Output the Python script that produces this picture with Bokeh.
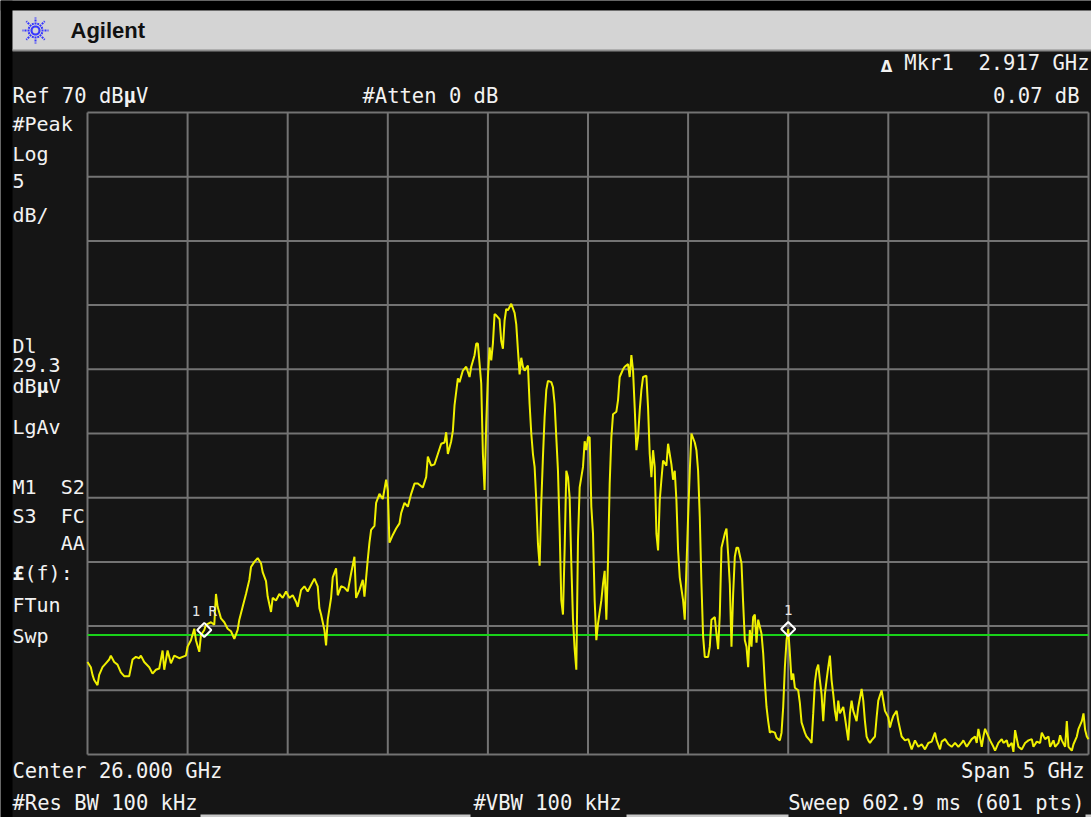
import math
from bokeh.plotting import figure
from bokeh.models import Range1d, ColumnDataSource
from bokeh.core.properties import value
from bokeh.embed import file_html
from bokeh.resources import INLINE

# ---- instrument settings ----
center_ghz = 26.0
span_ghz = 5.0
n_points = 601
ref_level = 70.0        # dBuV, top graticule line
db_per_div = 5.0
n_vdiv = 10
n_hdiv = 10
display_line = 29.3     # dBuV

# ---- trace: sweep point index and level (dBuV) ----
trace_pt = [
    0, 2, 3, 4, 6, 7, 9, 11, 13, 14,
    16, 18, 20, 22, 25, 27, 29, 31, 32, 34,
    37, 39, 41, 43, 45, 46, 48, 50, 52, 55,
    57, 59, 60, 62, 64, 65, 67, 68, 70, 71,
    74, 76, 77, 78, 80, 82, 84, 86, 88, 90,
    91, 93, 95, 97, 98, 100, 102, 104, 105, 107,
    108, 110, 111, 113, 115, 117, 119, 121, 123, 125,
    126, 128, 130, 132, 134, 136, 138, 139, 140, 142,
    143, 144, 146, 147, 149, 150, 152, 154, 156, 158,
    160, 161, 163, 165, 166, 168, 169, 170, 172, 173,
    175, 177, 179, 180, 181, 183, 185, 187, 188, 190,
    192, 194, 196, 198, 201, 203, 204, 206, 208, 210,
    212, 214, 215, 216, 218, 219, 220, 222, 223, 225,
    227, 229, 230, 232, 233, 234, 236, 237, 238, 239,
    240, 241, 242, 243, 244, 245, 247, 248, 249, 250,
    251, 252, 254, 256, 257, 258, 259, 260, 261, 262,
    264, 265, 266, 267, 268, 269, 270, 271, 272, 273,
    274, 275, 276, 278, 279, 280, 281, 282, 283, 284,
    285, 286, 287, 288, 289, 290, 291, 292, 293, 294,
    295, 297, 298, 299, 300, 301, 302, 303, 304, 305,
    306, 308, 309, 310, 311, 312, 313, 314, 315, 317,
    318, 319, 321, 322, 324, 325, 326, 327, 328, 329,
    330, 331, 332, 333, 335, 336, 337, 338, 339, 340,
    341, 342, 343, 344, 345, 347, 348, 350, 351, 352,
    353, 354, 355, 357, 358, 359, 360, 361, 362, 364,
    365, 366, 367, 368, 369, 370, 372, 373, 374, 376,
    377, 378, 379, 380, 382, 383, 384, 385, 386, 387,
    388, 389, 390, 392, 393, 394, 395, 396, 397, 398,
    399, 400, 401, 402, 404, 405, 406, 407, 408, 409,
    410, 412, 413, 415, 416, 417, 418, 419, 420, 421,
    422, 423, 424, 426, 427, 428, 430, 431, 433, 434,
    435, 436, 437, 438, 439, 440, 441, 442, 443, 444,
    445, 446, 447, 448, 449, 450, 451, 453, 454, 456,
    457, 458, 459, 461, 462, 464, 465, 466, 467, 468,
    469, 470, 472, 473, 474, 476, 477, 478, 480, 481,
    482, 483, 485, 486, 488, 490, 492, 494, 496, 498,
    500, 502, 504, 506, 508, 509, 511, 512, 514, 516,
    518, 520, 522, 524, 525, 527, 529, 530, 532, 533,
    534, 536, 537, 538, 540, 541, 543, 544, 546, 548,
    549, 551, 552, 554, 555, 556, 558, 560, 562, 564,
    566, 567, 569, 571, 572, 574, 576, 577, 579, 580,
    582, 583, 584, 586, 587, 588, 590, 591, 593, 594,
    596, 597, 598, 599, 600,
]
trace_dbuv = [
    27.2, 26.8, 26.2, 25.8, 25.4, 26.2, 26.8, 27.1, 27.4, 27.7,
    27.2, 27.0, 26.4, 26.1, 26.1, 27.4, 27.6, 27.5, 27.7, 27.2,
    26.8, 26.3, 26.6, 26.7, 28.1, 26.6, 28.1, 27.1, 27.7, 27.5,
    27.6, 27.7, 28.4, 28.9, 29.8, 28.9, 28.0, 29.3, 29.7, 30.1,
    30.3, 30.1, 32.5, 31.5, 30.6, 30.3, 29.8, 29.6, 29.0, 29.7,
    30.5, 31.5, 32.5, 33.6, 34.6, 35.0, 35.3, 34.9, 34.2, 33.5,
    32.3, 31.1, 32.2, 32.0, 32.5, 32.2, 32.7, 32.2, 32.4, 31.9,
    31.5, 32.8, 33.1, 32.7, 33.2, 33.7, 33.1, 31.4, 30.9, 29.7,
    28.5, 30.5, 32.2, 33.8, 34.5, 32.4, 33.1, 33.0, 32.7, 34.1,
    35.4, 32.2, 32.8, 33.6, 32.3, 35.2, 36.5, 37.5, 37.8, 39.6,
    40.3, 39.9, 41.4, 40.6, 36.5, 37.1, 37.6, 38.0, 38.8, 39.6,
    39.3, 40.3, 41.1, 41.1, 40.8, 41.6, 43.2, 42.5, 42.6, 43.4,
    44.2, 44.3, 45.1, 43.4, 44.4, 45.2, 47.2, 49.3, 49.0, 49.9,
    50.2, 49.4, 50.2, 51.1, 52.0, 52.0, 48.9, 43.4, 40.6, 45.8,
    49.4, 51.7, 50.7, 52.0, 54.3, 54.2, 53.9, 52.2, 51.6, 53.8,
    54.7, 54.6, 55.1, 54.4, 53.5, 51.5, 49.6, 50.9, 50.2, 49.9,
    50.3, 47.3, 45.0, 43.4, 42.4, 39.8, 36.4, 34.7, 39.6, 43.2,
    46.3, 48.4, 49.1, 49.0, 48.6, 47.3, 44.7, 42.1, 37.5, 32.0,
    30.9, 36.0, 42.1, 41.6, 40.0, 34.9, 30.5, 28.2, 26.6, 36.7,
    40.8, 42.4, 44.4, 43.7, 44.7, 44.7, 39.3, 37.2, 32.0, 28.9,
    30.2, 32.0, 33.3, 34.3, 30.5, 35.1, 41.1, 44.7, 46.5, 46.7,
    47.6, 49.4, 50.0, 50.2, 50.4, 49.4, 51.1, 49.9, 47.0, 43.7,
    44.7, 46.8, 48.4, 49.4, 49.5, 47.0, 43.4, 41.6, 43.7, 42.4,
    37.2, 35.9, 39.8, 41.4, 42.9, 42.5, 44.2, 42.6, 41.4, 42.1,
    39.8, 35.9, 33.8, 32.0, 30.5, 34.6, 38.5, 42.1, 45.0, 44.3,
    43.7, 42.1, 38.5, 33.3, 29.2, 27.6, 27.6, 28.4, 30.5, 30.7,
    29.4, 28.2, 30.9, 36.1, 37.2, 37.6, 35.6, 33.3, 28.4, 32.5,
    35.4, 36.1, 36.1, 34.9, 31.8, 28.9, 28.4, 26.8, 29.7, 28.4,
    30.7, 30.9, 28.7, 30.5, 29.4, 27.9, 25.6, 23.7, 22.6, 21.7,
    21.8, 21.7, 21.3, 21.1, 21.7, 23.7, 26.8, 28.9, 29.77, 27.9,
    25.8, 26.3, 25.2, 25.0, 24.0, 22.5, 21.7, 21.4, 21.1, 20.9,
    23.2, 25.6, 26.6, 27.0, 25.8, 24.7, 22.6, 24.7, 25.8, 26.8,
    27.7, 25.8, 24.7, 23.4, 22.6, 24.2, 23.2, 23.7, 22.9, 21.1,
    23.2, 24.2, 23.4, 22.6, 23.7, 25.1, 24.2, 22.6, 21.4, 21.1,
    20.9, 21.1, 21.4, 22.9, 24.2, 25.0, 24.2, 23.4, 22.9, 22.1,
    22.6, 23.0, 23.4, 22.6, 21.4, 21.1, 21.2, 20.4, 21.1, 20.6,
    20.8, 20.4, 20.9, 21.0, 21.7, 21.1, 20.4, 21.0, 21.2, 20.8,
    20.6, 20.9, 20.6, 20.9, 21.1, 20.6, 21.0, 21.2, 21.4, 20.9,
    22.0, 20.6, 21.4, 22.0, 21.4, 21.1, 20.6, 20.3, 20.9, 21.2,
    20.9, 21.1, 20.6, 20.9, 20.2, 21.9, 20.6, 20.4, 20.9, 21.1,
    21.2, 20.6, 21.0, 20.9, 21.7, 21.2, 21.4, 20.6, 21.1, 20.6,
    20.9, 21.5, 21.1, 20.6, 22.6, 20.6, 20.3, 20.8, 21.4, 22.0,
    22.6, 23.2, 21.9, 21.4, 21.2,
]
assert len(trace_pt) == len(trace_dbuv)

# ---- markers (sweep point index): reference marker and delta marker ----
marker_ref_pt = 70
marker_pt = 420

# ---- derived values ----
start_ghz = center_ghz - span_ghz / 2
stop_ghz = center_ghz + span_ghz / 2
bottom_level = ref_level - n_vdiv * db_per_div
ghz_per_pt = span_ghz / (n_points - 1)

freq = [start_ghz + i * ghz_per_pt for i in trace_pt]
level_at = dict(zip(trace_pt, trace_dbuv))
mk_f = [start_ghz + marker_ref_pt * ghz_per_pt, start_ghz + marker_pt * ghz_per_pt]
mk_l = [level_at[marker_ref_pt], level_at[marker_pt]]
delta_f = mk_f[1] - mk_f[0]
delta_l = mk_l[1] - mk_l[0]

# ---- screen layout (pixels, origin top-left) ----
W, H = 1091, 817
GL, GR, GT, GB = 87, 1088, 112, 754   # graticule edges on the screen

BG = "#151515"
FG = "#f2f2f2"
GRID = "#737373"
MONO = "DejaVu Sans Mono"
FS = 20.5        # status lines
FS_COL = 20      # left annotation column
CW = 0.602 * FS
CW_COL = 0.602 * FS_COL
NB = "\u00a0"    # keeps runs of spaces in the SVG text

# the plot frame is the whole screen, in pixel units (y grows downwards)
p = figure(width=W, height=H, output_backend="svg", toolbar_location=None,
           x_range=Range1d(0, W), y_range=Range1d(H, 0),
           x_axis_location=None, y_axis_location=None, min_border=0)
p.background_fill_color = BG
p.border_fill_color = BG
p.outline_line_color = None
p.xgrid.visible = False
p.ygrid.visible = False

# frequency / level scales that put the graticule where the screen has it
gpp = span_ghz / (GR - GL)
dpp = (ref_level - bottom_level) / (GB - GT)
p.extra_x_ranges = {"freq": Range1d(start_ghz - GL * gpp, stop_ghz + (W - GR) * gpp)}
p.extra_y_ranges = {"level": Range1d(bottom_level - (H - GB) * dpp, ref_level + GT * dpp)}
ON_SCALE = dict(x_range_name="freq", y_range_name="level")

# ---- screen furniture ----
def boxes(spec, color):
    l, r, t, b = zip(*spec)
    p.quad(left=list(l), right=list(r), top=list(t), bottom=list(b),
           fill_color=color, line_color=None)

boxes([(0, 12, 0, H), (0, W, 0, 10)], "#000000")
boxes([(12, W, 10, 50)], "#d4d4d4")
boxes([(12, W, 49, 51)], "#8a8a8a")
# softkey edges along the bottom
boxes([(200, 470, 814, H), (626, 788, 814, H), (1085, W, 814, H)], "#c8c8c8")

# company spark: dotted rays around a centre
cx, cy = 35, 30
rays = []
for k in range(16):
    a = k * math.pi / 8
    r1 = 13 if k % 2 == 0 else 8
    rays.append((cx + 3 * math.cos(a), cy + 3 * math.sin(a),
                 cx + r1 * math.cos(a), cy + r1 * math.sin(a)))
rx0, ry0, rx1, ry1 = zip(*rays)
p.segment(x0=list(rx0), y0=list(ry0), x1=list(rx1), y1=list(ry1),
          line_color="#3535ff", line_width=2, line_dash="2 1")

# ---- graticule ----
vx = [start_ghz + k * span_ghz / n_hdiv for k in range(n_hdiv + 1)]
hy = [bottom_level + k * db_per_div for k in range(n_vdiv + 1)]
p.segment(x0=vx, x1=vx, y0=[bottom_level] * len(vx), y1=[ref_level] * len(vx),
          line_color=GRID, line_width=2, **ON_SCALE)
p.segment(x0=[start_ghz] * len(hy), x1=[stop_ghz] * len(hy), y0=hy, y1=hy,
          line_color=GRID, line_width=2, **ON_SCALE)

# display line
p.segment(x0=[start_ghz], x1=[stop_ghz], y0=[display_line], y1=[display_line],
          line_color="#19d219", line_width=2, **ON_SCALE)

# trace
src = ColumnDataSource(data=dict(f=freq, l=trace_dbuv))
p.line("f", "l", source=src, line_color="#f0f000", line_width=2, **ON_SCALE)

# markers
p.scatter(mk_f, mk_l, marker="square", size=10, angle=0.785398,
          fill_color=None, line_color="white", line_width=2, **ON_SCALE)
p.text(x=mk_f, y=mk_l, text=["1" + NB + "R", "1"], y_offset=-19,
       text_align="center", text_baseline="middle",
       text_font=value(MONO), text_font_size=value("14px"), text_color="#e8e8e8",
       **ON_SCALE)


# ---- screen annotations ----
def txt(s, x, y, align="left", size=FS, color=FG, font=MONO, style="normal"):
    p.text(x=[x], y=[y], text=[s.replace(" ", NB)], text_align=align,
           text_baseline="middle",
           text_font=value(font), text_font_size=value(f"{size}px"),
           text_color=color, text_font_style=style)


# header
txt("Agilent", 70, 30, size=22, color="#111111", font="Liberation Sans", style="bold")

# marker readout
txt("\u0394", 886, 66, align="center", size=15, font="DejaVu Sans", style="bold")
txt(f"Mkr1  {delta_f:.3f} GHz", 1089, 62, align="right")
txt(f"{delta_l:.2f} dB", 1079, 95, align="right")

# reference line
x0 = 12
txt(f"Ref {ref_level:.0f} dB", x0, 95)
txt("\u00b5", x0 + 9 * CW, 95, style="bold")
txt("V", x0 + 10 * CW, 95)
txt("#Atten 0 dB", 362, 95)

# left annotation column
def col(s, y, dx=0, style="normal"):
    txt(s, x0 + dx * CW_COL, y, size=FS_COL, style=style)

col("#Peak", 123)
col("Log", 153)
col(f"{db_per_div:.0f}", 180)
col("dB/", 214)
col("Dl", 345)
col(f"{display_line:.1f}", 364)
col("dB", 385)
col("\u00b5", 385, dx=2, style="bold")
col("V", 385, dx=3)
col("LgAv", 426)
col("M1  S2", 486)
col("S3  FC", 515)
col("    AA", 542)
col("\u00a3", 572, style="bold")
col("(f):", 572, dx=1)
col("FTun", 604)
col("Swp", 635)

# bottom annotations
txt(f"Center {center_ghz:.3f} GHz", x0, 770)
txt(f"Span {span_ghz:.0f} GHz", 1084, 770, align="right")
txt("#Res BW 100 kHz", x0, 802)
txt("#VBW 100 kHz", 473, 802)
txt(f"Sweep 602.9 ms ({n_points} pts)", 1084, 802, align="right")

open("out.html", "w").write(file_html(p, INLINE))
